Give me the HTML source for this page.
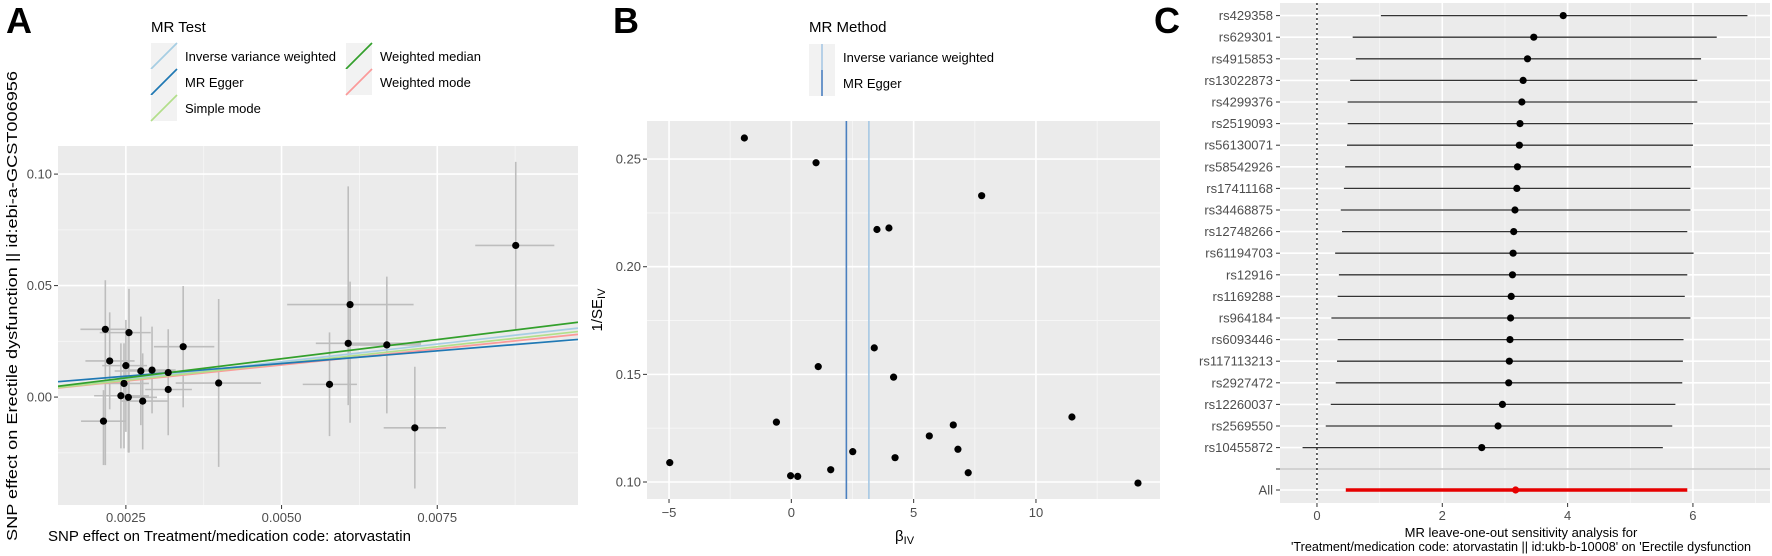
<!DOCTYPE html>
<html><head><meta charset="utf-8">
<style>
html,body{margin:0;padding:0;background:#fff;}
svg{display:block;font-family:"Liberation Sans",Arial,sans-serif;}
.tick{font-size:13px;fill:#4d4d4d;}
.title{font-size:15px;fill:#000;}
.leg{font-size:13px;fill:#000;}
.plab{font-size:36px;font-weight:bold;fill:#000;}
</style></head>
<body>
<svg id="fig" width="1772" height="556" viewBox="0 0 1772 556" xmlns="http://www.w3.org/2000/svg">
<g id="panelA"></g>
<g id="panelB"></g>
<g id="panelC"></g>
</svg>
<script>
// ---------- Panel A data ----------
const aX   = [0.00217,0.00224,0.00255,0.0025,0.00247,0.00242,0.00254,0.00274,0.00292,0.00277,0.00318,0.00318,0.00342,0.00214,0.00399,0.00577,0.0061,0.00607,0.00669,0.00714,0.00876];
const aY   = [0.0304,0.0162,0.0289,0.0141,0.0061,0.0006,-0.0001,0.0117,0.0121,-0.0018,0.0034,0.011,0.0226,-0.0108,0.0063,0.0057,0.0415,0.0241,0.0234,-0.0138,0.068];
const aXlo = [0.00177,0.00185,0.00208,0.00212,0.0021,0.00199,0.00237,0.00232,0.00254,0.00243,0.00281,0.00287,0.00295,0.00178,0.0033,0.00534,0.00509,0.00555,0.00612,0.00664,0.00811];
const aXhi = [0.00254,0.00264,0.0029,0.00284,0.00287,0.00287,0.0030,0.00328,0.0033,0.00317,0.00356,0.0033,0.00392,0.00251,0.00467,0.00621,0.00712,0.00724,0.00724,0.00764,0.00938];
const aYlo = [-0.0305,-0.0055,-0.0249,-0.0156,-0.023,-0.023,-0.0249,-0.0126,-0.0073,-0.0235,-0.0171,0.006,-0.0046,-0.0305,-0.0313,-0.0175,-0.0115,-0.0036,-0.0073,-0.041,0.0301];
const aYhi = [0.0524,0.038,0.0485,0.0346,0.0241,0.0241,0.0301,0.0361,0.0316,0.0196,0.0304,0.016,0.0498,0.0031,0.044,0.029,0.0518,0.0945,0.054,0.0136,0.1055];
const methods    = ["Inverse variance weighted","MR Egger","Simple mode","Weighted median","Weighted mode"];
const slopes     = [3.17,2.27,3.01,3.44,2.88];
const intercepts = [0,0.0037,0,0,0];
const aXTicks = [0.0025,0.005,0.0075];
const aXTickLabels = ["0.0025","0.0050","0.0075"];
const aYTicks = [0,0.05,0.10];
const aYTickLabels = ["0.00","0.05","0.10"];
// ---------- Panel B data ----------
const bBeta = [-1.92,1.01,7.78,3.50,3.99,3.39,1.10,4.18,-0.61,6.62,5.64,2.51,6.81,4.24,-4.97,-0.03,0.26,1.61,7.23,11.47,14.17];
const bInvSE = [0.2598,0.2483,0.233,0.2173,0.218,0.1623,0.1536,0.1487,0.1278,0.1265,0.1214,0.1141,0.1152,0.1113,0.109,0.1029,0.1026,0.1057,0.1043,0.1302,0.0995];
const bMethods = ["Inverse variance weighted","MR Egger"];
const bEstimates = [3.17,2.25];
const bXTicks = [-5,0,5,10];
const bYTicks = [0.10,0.15,0.20,0.25];
const bYTickLabels = ["0.10","0.15","0.20","0.25"];
// ---------- Panel C data ----------
const cSnps = ["rs429358","rs629301","rs4915853","rs13022873","rs4299376","rs2519093","rs56130071","rs58542926","rs17411168","rs34468875","rs12748266","rs61194703","rs12916","rs1169288","rs964184","rs6093446","rs117113213","rs2927472","rs12260037","rs2569550","rs10455872"];
const cEst = [3.93,3.46,3.36,3.29,3.27,3.24,3.23,3.20,3.19,3.16,3.14,3.13,3.12,3.10,3.09,3.08,3.07,3.06,2.96,2.89,2.63];
const cLo  = [1.02,0.57,0.62,0.53,0.49,0.49,0.48,0.45,0.43,0.38,0.40,0.29,0.35,0.33,0.23,0.33,0.32,0.30,0.22,0.14,-0.23];
const cHi  = [6.87,6.38,6.13,6.07,6.07,6.0,6.0,5.97,5.96,5.96,5.91,6.01,5.91,5.87,5.96,5.85,5.84,5.83,5.72,5.67,5.52];
const cAllEst = [3.17];
const cAllLo = [0.46];
const cAllHi = [5.91];
const cXTicks = [0,2,4,6];

const NS = "http://www.w3.org/2000/svg";
function mk(parent, tag, attrs, text){
  const e = document.createElementNS(NS, tag);
  for (const k in attrs) e.setAttribute(k, attrs[k]);
  if (text !== undefined) e.textContent = text;
  parent.appendChild(e);
  return e;
}
const methodColors = {"Inverse variance weighted":"#a6cee3","MR Egger":"#1f78b4","Simple mode":"#b2df8a","Weighted median":"#33a02c","Weighted mode":"#fb9a99"};
const methodColorsB = {"Inverse variance weighted":"#a6c8e4","MR Egger":"#4a7fbf"};

// ================= PANEL A =================
(function(){
  const g = document.getElementById('panelA');
  const L=58,R=578,T=146,B=505;
  const x0=0.00141,x1=0.00976,y0=-0.0484,y1=0.1126;
  const sx=v=>L+(v-x0)/(x1-x0)*(R-L);
  const sy=v=>B-(v-y0)/(y1-y0)*(B-T);
  const bg=mk(g,'rect',{x:L,y:T,width:R-L,height:B-T,fill:'#ebebeb'});
  
  
  [0.00375,0.00625,0.00875].forEach(v=>mk(g,'line',{x1:sx(v),x2:sx(v),y1:T,y2:B,stroke:'#f7f7f7','stroke-width':0.8}));
  [-0.025,0.025,0.075].forEach(v=>mk(g,'line',{x1:L,x2:R,y1:sy(v),y2:sy(v),stroke:'#f7f7f7','stroke-width':0.8}));
  aXTicks.forEach((v,i)=>{
    mk(g,'line',{x1:sx(v),x2:sx(v),y1:T,y2:B,stroke:'#fff','stroke-width':1.6});
    mk(g,'line',{x1:sx(v),x2:sx(v),y1:B,y2:B+4,stroke:'#333','stroke-width':1});
    const t=mk(g,'text',{x:sx(v),y:B+17,'text-anchor':'middle',class:'tick'},aXTickLabels[i]);
    
    
  });
  aYTicks.forEach((v,i)=>{
    mk(g,'line',{x1:L,x2:R,y1:sy(v),y2:sy(v),stroke:'#fff','stroke-width':1.6});
    mk(g,'line',{x1:L-4,x2:L,y1:sy(v),y2:sy(v),stroke:'#333','stroke-width':1});
    const t=mk(g,'text',{x:L-6,y:sy(v)+4.5,'text-anchor':'end',class:'tick'},aYTickLabels[i]);
    
    
  });
  const clip=mk(g,'clipPath',{id:'clipA'}); mk(clip,'rect',{x:L,y:T,width:R-L,height:B-T});
  const eg=mk(g,'g',{'clip-path':'url(#clipA)'});
  aX.forEach((v,i)=>{
    const h=mk(eg,'line',{x1:sx(aXlo[i]),x2:sx(aXhi[i]),y1:sy(aY[i]),y2:sy(aY[i]),stroke:'#bdbdbd','stroke-width':1.6});
    
    
    const vv=mk(eg,'line',{x1:sx(v),x2:sx(v),y1:sy(aYlo[i]),y2:sy(aYhi[i]),stroke:'#bdbdbd','stroke-width':1.6});
    
    
  });
  const order=[1,2,0,4,3];
  [0,4,2,1,3].forEach(i=>{
    const m=methods[i];
    const ln=mk(eg,'line',{x1:sx(x0),x2:sx(x1),y1:sy(intercepts[i]+slopes[i]*x0),y2:sy(intercepts[i]+slopes[i]*x1),stroke:methodColors[m],'stroke-width':1.7});
    
    
  });
  aX.forEach((v,i)=>{
    const c=mk(eg,'circle',{cx:sx(v),cy:sy(aY[i]),r:3.6,fill:'#000'});
    
    
  });
  const pl=mk(g,'text',{x:6,y:33,class:'plab'},'A');
  
  
  const xt=mk(g,'text',{x:48,y:541,class:'title'},'SNP effect on Treatment/medication code: atorvastatin');
  
  
  const yt=mk(g,'text',{x:0,y:0,class:'title','text-anchor':'middle',transform:'translate(17,306) rotate(-90)',textLength:470,lengthAdjust:'spacingAndGlyphs'},'SNP effect on Erectile dysfunction || id:ebi-a-GCST006956');
  
  
  // legend
  const lg=mk(g,'g',{});
  
  
  mk(lg,'text',{x:151,y:32,style:'font-size:15px'},'MR Test');
  const pos=[[151,43],[151,69],[151,95],[346,43],[346,69]];
  const li=[0,1,2,3,4];
  li.forEach((mi,k)=>{
    const [px,py]=pos[k];
    const e=mk(lg,'g',{});
    
    
    mk(e,'rect',{x:px,y:py,width:26,height:26,fill:'#f2f2f2'});
    mk(e,'line',{x1:px,y1:py+26,x2:px+26,y2:py,stroke:methodColors[methods[mi]],'stroke-width':1.7});
    mk(e,'text',{x:px+34,y:py+18,class:'leg'},methods[mi]);
  });
})();

// ================= PANEL B =================
(function(){
  const g=document.getElementById('panelB');
  const L=647,R=1160,T=121,B=499;
  const x0=-5.9,x1=15.07,y0=0.0921,y1=0.2677;
  const sx=v=>L+(v-x0)/(x1-x0)*(R-L);
  const sy=v=>B-(v-y0)/(y1-y0)*(B-T);
  const bg=mk(g,'rect',{x:L,y:T,width:R-L,height:B-T,fill:'#ebebeb'});
  
  
  [-2.5,2.5,7.5,12.5].forEach(v=>mk(g,'line',{x1:sx(v),x2:sx(v),y1:T,y2:B,stroke:'#f7f7f7','stroke-width':0.8}));
  [0.125,0.175,0.225].forEach(v=>mk(g,'line',{x1:L,x2:R,y1:sy(v),y2:sy(v),stroke:'#f7f7f7','stroke-width':0.8}));
  bXTicks.forEach(v=>{
    mk(g,'line',{x1:sx(v),x2:sx(v),y1:T,y2:B,stroke:'#fff','stroke-width':1.6});
    mk(g,'line',{x1:sx(v),x2:sx(v),y1:B,y2:B+4,stroke:'#333','stroke-width':1});
    const t=mk(g,'text',{x:sx(v),y:B+18,'text-anchor':'middle',class:'tick'},v<0?'\u2212'+(-v):String(v));
    
    
  });
  bYTicks.forEach((v,i)=>{
    mk(g,'line',{x1:L,x2:R,y1:sy(v),y2:sy(v),stroke:'#fff','stroke-width':1.6});
    mk(g,'line',{x1:L-4,x2:L,y1:sy(v),y2:sy(v),stroke:'#333','stroke-width':1});
    const t=mk(g,'text',{x:L-6,y:sy(v)+4.5,'text-anchor':'end',class:'tick'},bYTickLabels[i]);
    
    
  });
  bMethods.forEach((m,i)=>{
    const l=mk(g,'line',{x1:sx(bEstimates[i]),x2:sx(bEstimates[i]),y1:T,y2:B,stroke:methodColorsB[m],'stroke-width':1.6});
    
    
  });
  bBeta.forEach((v,i)=>{
    const c=mk(g,'circle',{cx:sx(v),cy:sy(bInvSE[i]),r:3.6,fill:'#000'});
    
    
  });
  const pl=mk(g,'text',{x:613,y:33,class:'plab'},'B');
  
  
  const xt=mk(g,'text',{x:895,y:541,class:'title'},'\u03B2');
  
  
  mk(xt,'tspan',{style:'font-size:11px',dy:3},'IV');
  const yt=mk(g,'text',{x:0,y:0,class:'title','text-anchor':'middle',transform:'translate(602,310) rotate(-90)'},'1/SE');
  
  
  mk(yt,'tspan',{style:'font-size:11px',dy:3},'IV');
  const lg=mk(g,'g',{});
  
  
  mk(lg,'text',{x:809,y:32,style:'font-size:15px'},'MR Method');
  bMethods.forEach((m,i)=>{
    const py=44+i*26;
    const e=mk(lg,'g',{});
    
    
    mk(e,'rect',{x:809,y:py,width:26,height:26,fill:'#f2f2f2'});
    mk(e,'line',{x1:822,x2:822,y1:py,y2:py+26,stroke:methodColorsB[m],'stroke-width':1.6});
    mk(e,'text',{x:843,y:py+18,class:'leg'},m);
  });
})();

// ================= PANEL C =================
(function(){
  const g=document.getElementById('panelC');
  const L=1280,R=1770,T=3,B=503;
  const x0=-0.59,x1=7.23;
  const sx=v=>L+(v-x0)/(x1-x0)*(R-L);
  const rowY=i=>15.6+i*21.6;
  const allY=490;
  const bg=mk(g,'rect',{x:L,y:T,width:R-L,height:B-T,fill:'#ebebeb'});
  
  
  [1,3,5,7].forEach(v=>mk(g,'line',{x1:sx(v),x2:sx(v),y1:T,y2:B,stroke:'#f7f7f7','stroke-width':0.8}));
  cXTicks.forEach(v=>{
    mk(g,'line',{x1:sx(v),x2:sx(v),y1:T,y2:B,stroke:'#fff','stroke-width':1.6});
    mk(g,'line',{x1:sx(v),x2:sx(v),y1:B,y2:B+4,stroke:'#333','stroke-width':1});
    const t=mk(g,'text',{x:sx(v),y:B+17,'text-anchor':'middle',class:'tick'},String(v));
    
    
  });
  const labs=cSnps.concat(['','All']);
  const ys=cSnps.map((s,i)=>rowY(i)).concat([469,allY]);
  labs.forEach((s,i)=>{
    mk(g,'line',{x1:L,x2:R,y1:ys[i],y2:ys[i],stroke:'#fff','stroke-width':1.6});
    mk(g,'line',{x1:L-4,x2:L,y1:ys[i],y2:ys[i],stroke:'#333','stroke-width':1});
    if(s){
      const t=mk(g,'text',{x:L-7,y:ys[i]+4.5,'text-anchor':'end',class:'tick'},s);
      
      
    }
  });
  mk(g,'line',{x1:L,x2:R,y1:469,y2:469,stroke:'#bdbdbd','stroke-width':1.2});
  mk(g,'line',{x1:sx(0),x2:sx(0),y1:T,y2:B,stroke:'#000','stroke-width':1.2,'stroke-dasharray':'2,3'});
  cSnps.forEach((s,i)=>{
    const l=mk(g,'line',{x1:sx(cLo[i]),x2:sx(cHi[i]),y1:rowY(i),y2:rowY(i),stroke:'#333','stroke-width':1.3});
    
    
    const c=mk(g,'circle',{cx:sx(cEst[i]),cy:rowY(i),r:3.6,fill:'#000'});
    
    
  });
  const al=mk(g,'line',{x1:sx(cAllLo[0]),x2:sx(cAllHi[0]),y1:allY,y2:allY,stroke:'#e60000','stroke-width':3.5});
  
  
  const ac=mk(g,'circle',{cx:sx(cAllEst[0]),cy:allY,r:3.6,fill:'#e60000'});
  
  
  const pl=mk(g,'text',{x:1154,y:33,class:'plab'},'C');
  
  
  const t1=mk(g,'text',{x:1521,y:537,'text-anchor':'middle',style:'font-size:13px'},'MR leave-one-out sensitivity analysis for');
  
  
  const t2=mk(g,'text',{x:1521,y:551,'text-anchor':'middle',style:'font-size:13px',textLength:460,lengthAdjust:'spacingAndGlyphs'},"'Treatment/medication code: atorvastatin || id:ukb-b-10008' on 'Erectile dysfunction");
  
  
})();
</script>
</body></html>
